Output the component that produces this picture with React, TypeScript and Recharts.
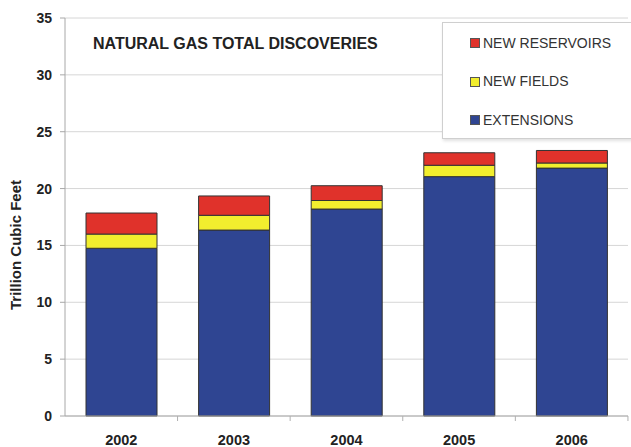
import { BarChart, Bar, XAxis, YAxis, CartesianGrid, Label } from "recharts"

const years = ["2002", "2003", "2004", "2005", "2006"]
const extensions = [14.75, 16.35, 18.2, 21.05, 21.8]
const newFields = [1.25, 1.3, 0.75, 1.0, 0.45]
const newReservoirs = [1.85, 1.7, 1.3, 1.1, 1.1]
const yTicks = [0, 5, 10, 15, 20, 25, 30, 35]

const series = [
  { key: "extensions", name: "EXTENSIONS", color: "#2f4592" },
  { key: "newFields", name: "NEW FIELDS", color: "#f2ee2e" },
  { key: "newReservoirs", name: "NEW RESERVOIRS", color: "#e0322b" },
]

const data = years.map((year, i) => ({
  year,
  extensions: extensions[i],
  newFields: newFields[i],
  newReservoirs: newReservoirs[i],
}))

const font = "'Liberation Sans', Arial, sans-serif"
const BAND = 112.5

function XTick(props: any) {
  const { x, y, payload } = props
  return (
    <g>
      <line x1={x + BAND / 2} y1={y} x2={x + BAND / 2} y2={y + 5} stroke="#b0b0b0" />
      <text x={x} y={y + 29} textAnchor="middle" fontFamily={font} fontSize={14.5} fontWeight="bold" fill="#222">
        {payload.value}
      </text>
    </g>
  )
}

function LegendBox() {
  const items = [...series].reverse()
  return (
    <div
      style={{
        position: "absolute",
        left: 442,
        top: 22,
        width: 200,
        height: 117,
        border: "1px solid #cfcfcf",
        boxShadow: "1px 2px 3px rgba(0,0,0,0.12)",
        background: "#fff",
        boxSizing: "border-box",
        paddingTop: 1,
        paddingLeft: 27,
      }}
    >
      {items.map((it) => (
        <div key={it.key} style={{ display: "flex", alignItems: "center", height: 38.5 }}>
          <span
            style={{
              width: 10,
              height: 10,
              background: it.color,
              border: "1px solid #555",
              boxSizing: "border-box",
              marginRight: 3,
            }}
          />
          <span style={{ fontFamily: font, fontSize: 14, color: "#333", lineHeight: "15px" }}>{it.name}</span>
        </div>
      ))}
    </div>
  )
}

export default function App() {
  return (
    <div style={{ position: "absolute", left: 0, top: 0, width: 631, height: 447, background: "#fff", overflow: "hidden" }}>
      <BarChart width={631} height={447} data={data} margin={{ top: 18, right: 3, bottom: 0, left: 0 }}>
        <CartesianGrid vertical={false} stroke="#d6d6d6" />
        <XAxis
          dataKey="year"
          height={31}
          tickSize={0}
          tickMargin={0}
          tick={<XTick />}
          axisLine={{ stroke: "#a8a8a8" }}
          tickLine={false}
          interval={0}
        />
        <YAxis
          width={65}
          domain={[0, 35]}
          ticks={yTicks}
          interval={0}
          tickSize={5}
          tickMargin={8}
          tickLine={{ stroke: "#a8a8a8" }}
          axisLine={{ stroke: "#a8a8a8" }}
          tick={{ fontFamily: font, fontSize: 14, fontWeight: "bold", fill: "#222" }}
        >
          <Label
            value="Trillion Cubic Feet"
            angle={-90}
            position="insideLeft"
            offset={16}
            dy={28}
            style={{ textAnchor: "middle", fontFamily: font, fontSize: 15, fontWeight: "bold", fill: "#222" }}
          />
        </YAxis>
        {series.map((s) => (
          <Bar
            key={s.key}
            dataKey={s.key}
            name={s.name}
            stackId="a"
            fill={s.color}
            stroke="#333"
            strokeWidth={1}
            barSize={71}
            isAnimationActive={false}
          />
        ))}
      </BarChart>
      <LegendBox />
      <div
        style={{
          position: "absolute",
          left: 93,
          top: 35,
          fontFamily: font,
          fontSize: 16,
          fontWeight: "bold",
          color: "#222",
          whiteSpace: "nowrap",
        }}
      >
        NATURAL GAS TOTAL DISCOVERIES
      </div>
    </div>
  )
}
